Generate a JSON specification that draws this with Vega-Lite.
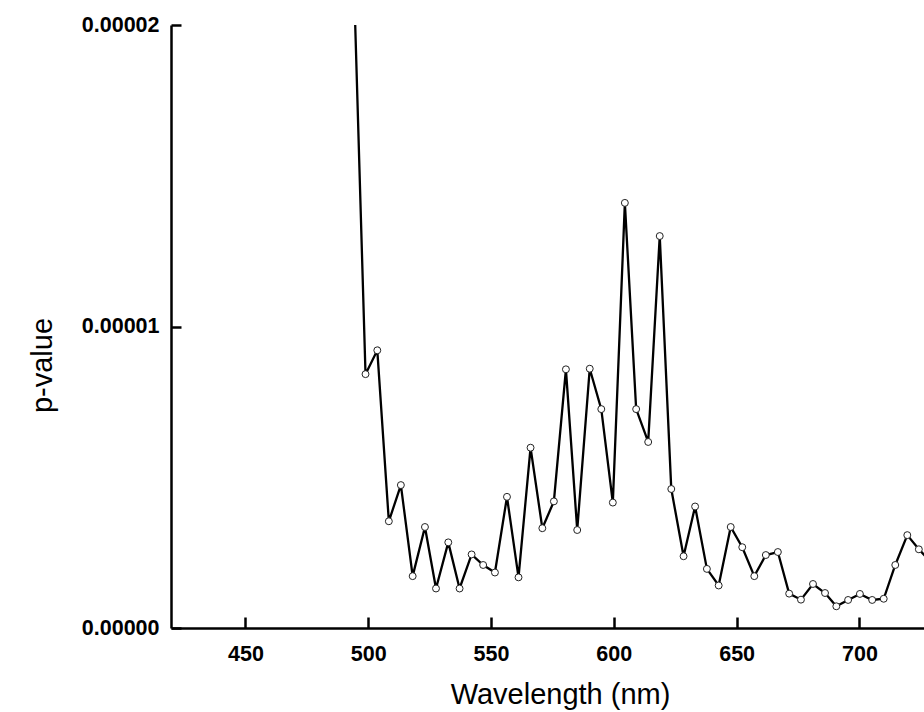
{
  "$schema": "https://vega.github.io/schema/vega-lite/v6.json",
  "autosize": "none",
  "padding": {"left": 171, "top": 25, "right": 0, "bottom": 84},
  "width": 753,
  "height": 603,
  "background": "white",
  "config": {
    "view": {"stroke": null},
    "axis": {
      "grid": false,
      "domainColor": "black",
      "domainWidth": 2.5,
      "tickColor": "black",
      "tickWidth": 2.5,
      "labelFont": "Liberation Sans",
      "labelFontWeight": "bold",
      "labelFontSize": 21.5,
      "labelColor": "black",
      "titleFont": "Liberation Sans",
      "titleFontWeight": "normal",
      "titleFontSize": 29,
      "titleColor": "black"
    }
  },
  "data": {
    "values": [
      {"wl": 494.2, "p": 0.0000214},
      {"wl": 498.9, "p": 0.00000842},
      {"wl": 503.7, "p": 0.00000921},
      {"wl": 508.4, "p": 0.00000354},
      {"wl": 513.3, "p": 0.00000474},
      {"wl": 518.1, "p": 0.00000172},
      {"wl": 523.1, "p": 0.00000335},
      {"wl": 527.6, "p": 0.00000131},
      {"wl": 532.6, "p": 0.00000284},
      {"wl": 537.2, "p": 0.00000131},
      {"wl": 542.1, "p": 0.00000244},
      {"wl": 546.8, "p": 0.00000209},
      {"wl": 551.6, "p": 0.00000184},
      {"wl": 556.5, "p": 0.00000435},
      {"wl": 561.2, "p": 0.00000168},
      {"wl": 566.1, "p": 0.00000598},
      {"wl": 570.9, "p": 0.00000331},
      {"wl": 575.6, "p": 0.0000042},
      {"wl": 580.5, "p": 0.00000858},
      {"wl": 585.1, "p": 0.00000325},
      {"wl": 590.2, "p": 0.0000086},
      {"wl": 594.9, "p": 0.00000726},
      {"wl": 599.6, "p": 0.00000416},
      {"wl": 604.5, "p": 0.0000141},
      {"wl": 609.1, "p": 0.00000726},
      {"wl": 614.0, "p": 0.00000617},
      {"wl": 618.7, "p": 0.000013},
      {"wl": 623.4, "p": 0.00000461},
      {"wl": 628.4, "p": 0.00000238},
      {"wl": 633.1, "p": 0.00000403},
      {"wl": 637.9, "p": 0.00000196},
      {"wl": 642.7, "p": 0.00000141},
      {"wl": 647.6, "p": 0.00000335},
      {"wl": 652.3, "p": 0.00000268},
      {"wl": 657.2, "p": 0.00000172},
      {"wl": 661.9, "p": 0.00000242},
      {"wl": 666.8, "p": 0.00000252},
      {"wl": 671.4, "p": 0.00000114},
      {"wl": 676.2, "p": 0.00000094},
      {"wl": 681.1, "p": 0.00000146},
      {"wl": 686.0, "p": 0.00000116},
      {"wl": 690.6, "p": 0.00000072},
      {"wl": 695.4, "p": 0.00000093},
      {"wl": 700.2, "p": 0.00000113},
      {"wl": 705.2, "p": 0.00000093},
      {"wl": 709.9, "p": 0.00000097},
      {"wl": 714.6, "p": 0.00000209},
      {"wl": 719.5, "p": 0.00000308},
      {"wl": 724.2, "p": 0.00000261},
      {"wl": 729.0, "p": 0.0000022}
    ]
  },
  "encoding": {
    "x": {
      "field": "wl",
      "type": "quantitative",
      "scale": {"domain": [419.7, 726.3], "nice": false, "zero": false},
      "axis": {
        "title": "Wavelength (nm)",
        "values": [450, 500, 550, 600, 650, 700],
        "tickSize": -11,
        "labelPadding": 43,
        "labelBaseline": "alphabetic",
        "titleX": 389,
        "titleY": 75,
        "titleBaseline": "alphabetic",
        "titleAnchor": "middle"
      }
    },
    "y": {
      "field": "p",
      "type": "quantitative",
      "scale": {"domain": [0, 0.00002], "nice": false},
      "axis": {
        "title": "p-value",
        "values": [0, 0.00001, 0.00002],
        "format": ".5f",
        "tickSize": -10,
        "labelPadding": 22,
        "labelBaseline": "middle",
        "titleX": -129,
        "titleY": 340,
        "titleBaseline": "middle",
        "titleAnchor": "middle"
      }
    }
  },
  "layer": [
    {"mark": {"type": "line", "color": "black", "strokeWidth": 2.3, "clip": true}},
    {"mark": {"type": "point", "shape": "circle", "filled": true, "fill": "white", "stroke": "#222", "strokeWidth": 1, "size": 48, "opacity": 1, "clip": true}}
  ]
}
